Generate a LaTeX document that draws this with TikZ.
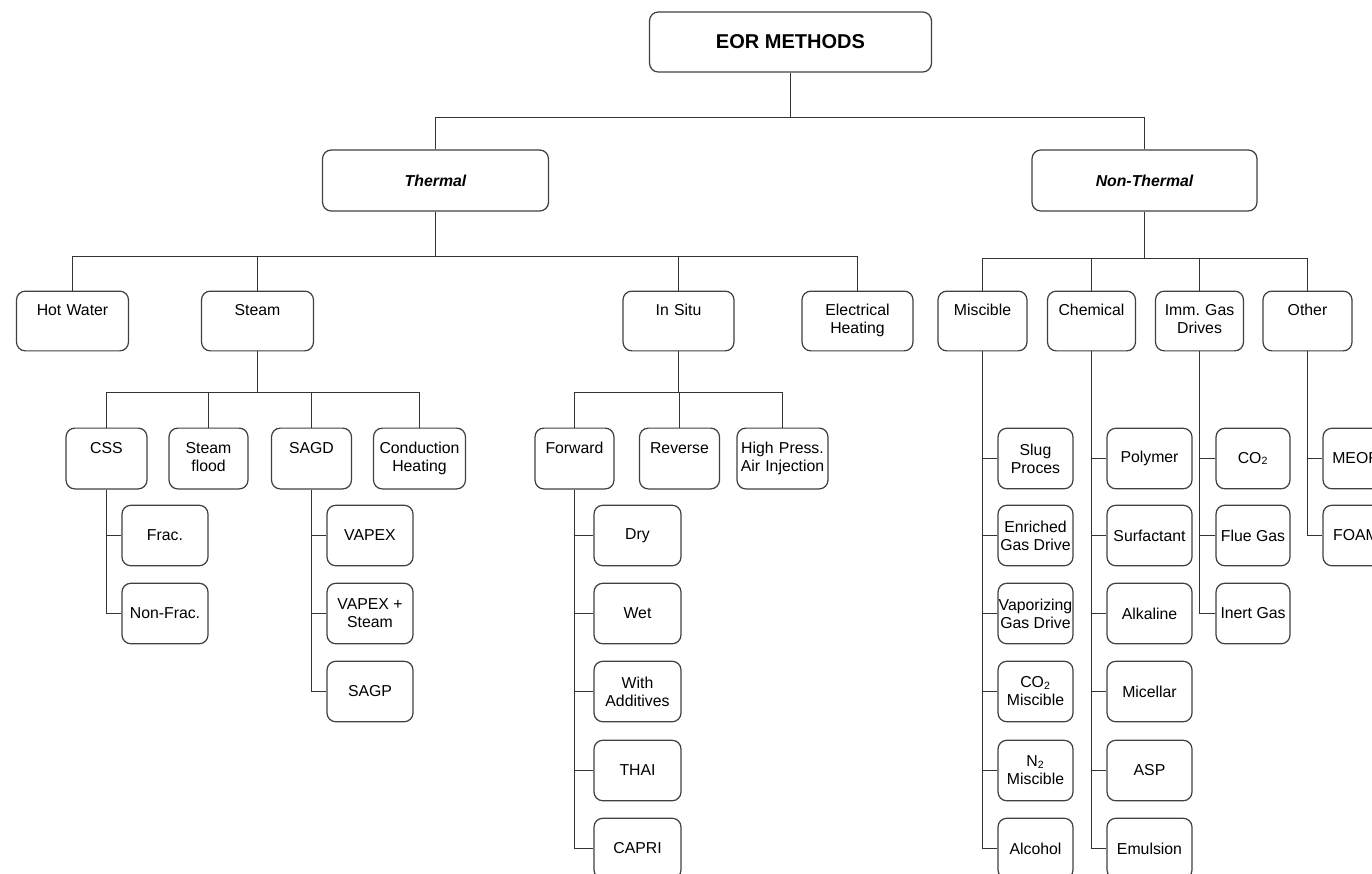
\documentclass[tikz,border=0pt]{standalone}
\usepackage{fontspec}
\setmainfont{Liberation Sans}
\frenchspacing
\begin{document}
\begin{tikzpicture}[x=0.02cm, y=-0.02cm,
  box/.style={draw=black!75, line width=0.7pt, rounded corners=5pt, inner sep=0pt, font=\fontsize{9}{10.2}\selectfont},
  head/.style={box, minimum width=#1, minimum height=1.22cm},
  cat/.style={box, text width=#1, align=center, text height=14pt, text depth=20pt},
  sub/.style={box, text width=#1, align=center, text height=14.5pt, text depth=20.1pt},
  leaf/.style={box, minimum width=#1, minimum height=1.21cm, align=center},
  conn/.style={draw=black!80, line width=0.7pt}]
\clip (0,0) rectangle (1372,873);
% top
\node[head=5.64cm, minimum height=1.2cm, font=\bfseries\fontsize{11.4}{13}\selectfont] (eor) at (790.5,42) {EOR METHODS};
\node[head=4.52cm, font=\bfseries\itshape\fontsize{9}{10.2}\selectfont] (th) at (435.5,180.5) {Thermal};
\node[head=4.5cm, font=\bfseries\itshape\fontsize{9}{10.2}\selectfont] (nth) at (1144.5,180.5) {Non-Thermal};
% second row
\node[cat=2.24cm] (hot) at (72.5,321) {Hot Water};
\node[cat=2.24cm] (steam) at (257.5,321) {Steam};
\node[cat=2.22cm] (insitu) at (678.5,321) {In Situ};
\node[cat=2.22cm] (elec) at (857.5,321) {Electrical\\Heating};
\node[cat=1.78cm] (misc) at (982.5,321) {Miscible};
\node[cat=1.76cm] (chem) at (1091.5,321) {Chemical};
\node[cat=1.76cm] (imm) at (1199.5,321) {Imm. Gas\\Drives};
\node[cat=1.78cm] (other) at (1307.5,321) {Other};
% third row
\node[sub=1.62cm] (css) at (106.5,458.5) {CSS};
\node[sub=1.58cm] (flood) at (208.5,458.5) {Steam\\flood};
\node[sub=1.6cm] (sagd) at (311.5,458.5) {SAGD};
\node[sub=1.84cm] (cond) at (419.5,458.5) {Conduction\\Heating};
\node[sub=1.58cm] (fwd) at (574.5,458.5) {Forward};
\node[sub=1.6cm] (rev) at (679.5,458.5) {Reverse};
\node[sub=1.82cm] (hpai) at (782.5,458.5) {High Press.\\Air Injection};
% CSS
\node[leaf=1.72cm] (frac) at (165,535.5) {Frac.};
\node[leaf=1.72cm] (nonfrac) at (165,613.5) {Non-Frac.};
% SAGD
\node[leaf=1.72cm] (vapex) at (370,535.5) {VAPEX};
\node[leaf=1.72cm] (vapexs) at (370,613.5) {VAPEX +\\Steam};
\node[leaf=1.72cm] (sagp) at (370,691.5) {SAGP};
% Forward
\node[leaf=1.74cm] (dry) at (637.5,535.5) {Dry};
\node[leaf=1.74cm] (wet) at (637.5,613.5) {Wet};
\node[leaf=1.74cm] (addit) at (637.5,691.5) {With\\Additives};
\node[leaf=1.74cm] (thai) at (637.5,770.5) {THAI};
\node[leaf=1.74cm] (capri) at (637.5,848.5) {CAPRI};
% Miscible
\node[leaf=1.5cm] (slug) at (1035.5,458.5) {Slug\\Proces};
\node[leaf=1.5cm] (enr) at (1035.5,535.5) {Enriched\\Gas Drive};
\node[leaf=1.5cm] (vap) at (1035.5,613.5) {Vaporizing\\Gas Drive};
\node[leaf=1.5cm] (cotwom) at (1035.5,691.5) {CO\textsubscript{2}\\Miscible};
\node[leaf=1.5cm] (ntwom) at (1035.5,770.5) {N\textsubscript{2}\\Miscible};
\node[leaf=1.5cm] (alc) at (1035.5,848.5) {Alcohol};
% Chemical
\node[leaf=1.7cm] (poly) at (1149.5,458.5) {Polymer};
\node[leaf=1.7cm] (surf) at (1149.5,535.5) {Surfactant};
\node[leaf=1.7cm] (alk) at (1149.5,613.5) {Alkaline};
\node[leaf=1.7cm] (mic) at (1149.5,691.5) {Micellar};
\node[leaf=1.7cm] (asp) at (1149.5,770.5) {ASP};
\node[leaf=1.7cm] (emul) at (1149.5,848.5) {Emulsion};
% Imm. gas
\node[leaf=1.48cm] (cotwo) at (1253,458.5) {CO\textsubscript{2}};
\node[leaf=1.48cm] (flue) at (1253,535.5) {Flue Gas};
\node[leaf=1.48cm] (inert) at (1253,613.5) {Inert Gas};
% Other
\node[leaf=1.32cm] (meor) at (1356,458.5) {MEOR};
\node[leaf=1.32cm] (foam) at (1356,535.5) {FOAM};
% links
\draw[conn] (eor.south) -- ++(0,44.5) coordinate (bar0);
\draw[conn] (th.north) |- (bar0) -| (nth.north);
\draw[conn] (th.south) -- ++(0,44.5) coordinate (bar1);
\draw[conn] (hot.north) |- (bar1) -| (elec.north);
\foreach \c in {steam,insitu}
  \draw[conn] (\c.north) -- (\c.north |- bar1);
\draw[conn] (nth.south) -- ++(0,46.5) coordinate (bar2);
\draw[conn] (misc.north) |- (bar2) -| (other.north);
\foreach \c in {chem,imm}
  \draw[conn] (\c.north) -- (\c.north |- bar2);
\draw[conn] (steam.south) -- ++(0,41) coordinate (bar3);
\draw[conn] (css.north) |- (bar3) -| (cond.north);
\foreach \c in {flood,sagd}
  \draw[conn] (\c.north) -- (\c.north |- bar3);
\draw[conn] (insitu.south) -- ++(0,41) coordinate (bar4);
\draw[conn] (fwd.north) |- (bar4) -| (hpai.north);
\draw[conn] (rev.north) -- (rev.north |- bar4);
% leaf branches
\draw[conn] (css.south) |- (nonfrac.west);
\draw[conn] (css.south |- frac.west) -- (frac.west);
\draw[conn] (sagd.south) |- (sagp.west);
\foreach \c in {vapex,vapexs}
  \draw[conn] (sagd.south |- \c.west) -- (\c.west);
\draw[conn] (fwd.south) |- (capri.west);
\foreach \c in {dry,wet,addit,thai}
  \draw[conn] (fwd.south |- \c.west) -- (\c.west);
\draw[conn] (misc.south) |- (alc.west);
\foreach \c in {slug,enr,vap,cotwom,ntwom}
  \draw[conn] (misc.south |- \c.west) -- (\c.west);
\draw[conn] (chem.south) |- (emul.west);
\foreach \c in {poly,surf,alk,mic,asp}
  \draw[conn] (chem.south |- \c.west) -- (\c.west);
\draw[conn] (imm.south) |- (inert.west);
\foreach \c in {cotwo,flue}
  \draw[conn] (imm.south |- \c.west) -- (\c.west);
\draw[conn] (other.south) |- (foam.west);
\draw[conn] (other.south |- meor.west) -- (meor.west);
\end{tikzpicture}
\end{document}
